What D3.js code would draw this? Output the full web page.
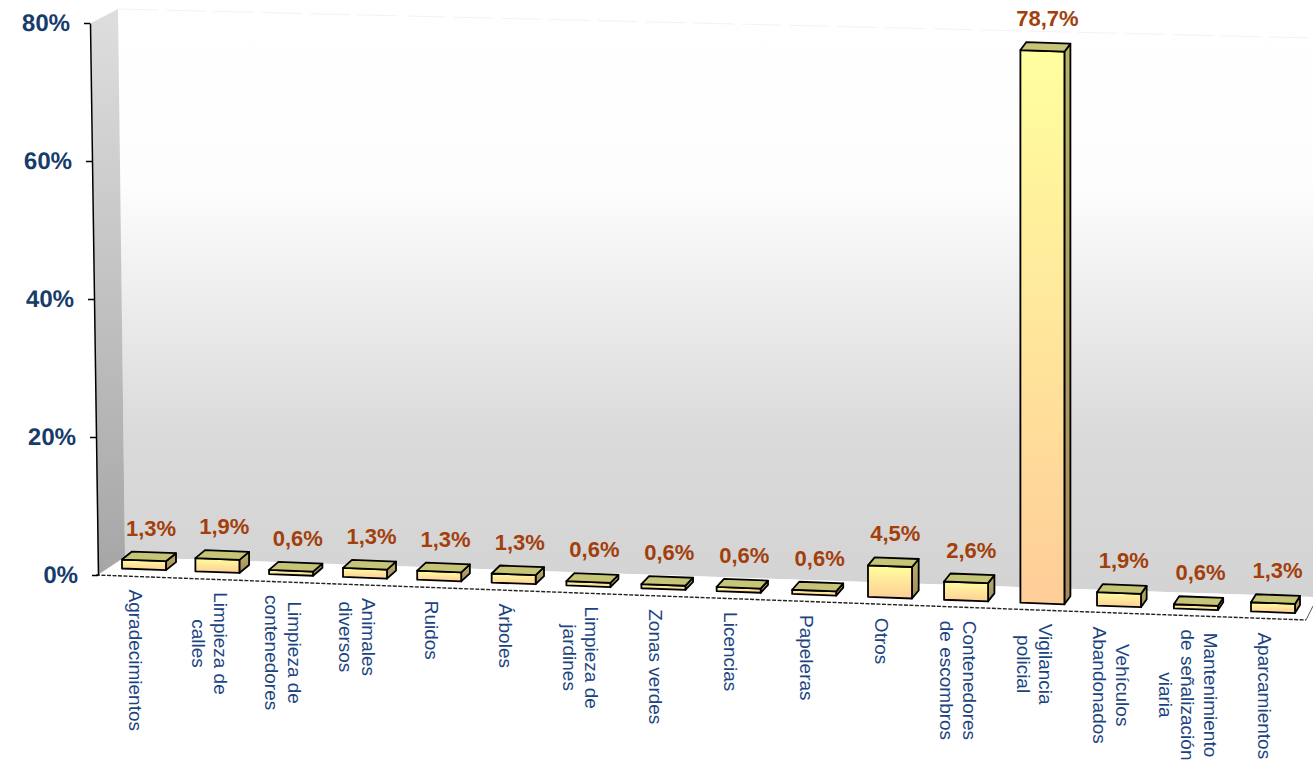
<!DOCTYPE html>
<html><head><meta charset="utf-8">
<script src="https://cdn.jsdelivr.net/npm/d3@7"></script>
<style>body{margin:0;background:#fff;overflow:hidden}text{font-family:"Liberation Sans",Arial,sans-serif}</style>
</head><body>
<svg id="c" width="1313" height="763"></svg>
<script>
// ---------- data ----------
const categoryLines = [
  ["Agradecimientos"], ["Limpieza de", "calles"], ["Limpieza de", "contenedores"],
  ["Animales", "diversos"], ["Ruidos"], ["Árboles"], ["Limpieza de", "jardines"],
  ["Zonas verdes"], ["Licencias"], ["Papeleras"], ["Otros"],
  ["Contenedores", "de escombros"], ["Vigilancia", "policial"],
  ["Vehículos", "Abandonados"], ["Mantenimiento", "de señalización", "viaria"],
  ["Aparcamientos"]
];
const categories = categoryLines.map(l => l.join(" "));
const values = [1.3, 1.9, 0.6, 1.3, 1.3, 1.3, 0.6, 0.6, 0.6, 0.6, 4.5, 2.6, 78.7, 1.9, 0.6, 1.3];
const yTicks = [0, 0.2, 0.4, 0.6, 0.8];

// ---------- formatting ----------
const es = d3.formatLocale({decimal: ",", thousands: ".", grouping: [3], currency: ["", "€"]});
const fmtVal = v => es.format(".1f")(v) + "%";
const fmtTick = es.format(".0%");

// ---------- geometry (perspective helpers) ----------
const svg = d3.select("#c");
const W = 1313;
const tScale = d3.scalePoint().domain(categories).range([0, 1]);
const frontX = t => 122 + 1099 * t + 30 * t * t;          // front-left x of a bar
const baseY = x => 568.5 + (x - 122) * 0.038;              // floor line under bar fronts
const slope = 0.038;
const yScale = d3.scaleLinear().domain([0, 0.8]).range([575, 23]);
const hScale = d3.scaleLinear().domain([0, 80]).range([0, 552]);
const barW = 44;

// ---------- defs ----------
const defs = svg.append("defs");
function lin(id, stops) {
  const g = defs.append("linearGradient").attr("id", id).attr("x1", 0).attr("y1", 0).attr("x2", 0).attr("y2", 1);
  stops.forEach(([o, c]) => g.append("stop").attr("offset", o).attr("stop-color", c));
}
lin("back", [[0, "#ffffff"], [0.3, "#fdfdfd"], [0.72, "#dadada"], [1, "#d3d3d3"]]);
lin("side", [[0, "#dedede"], [1, "#a6a6a6"]]);
lin("front", [[0, "#ffff9e"], [1, "#ffcd98"]]);
lin("bside", [[0, "#b8b26a"], [1, "#a68a5c"]]);

const poly = pts => "M" + pts.map(p => p.join(",")).join("L") + "Z";

// back wall
svg.append("path").attr("d", poly([[118, 9], [W, 38], [W, 597], [125, 557]])).attr("fill", "url(#back)");
svg.append("line").attr("x1", 118).attr("y1", 9).attr("x2", W).attr("y2", 38)
  .attr("stroke", "#f3f3f3").attr("stroke-width", 1).attr("stroke-dasharray", "40,8");
// side wall
svg.append("path").attr("d", poly([[91, 23], [118, 9], [125, 557], [98, 575]])).attr("fill", "url(#side)");
// floor
svg.append("path").attr("d", poly([[98, 575], [125, 557], [W, 597], [W, 605], [1306, 620]])).attr("fill", "#ffffff");
svg.append("line").attr("x1", 96).attr("y1", 575).attr("x2", 1306).attr("y2", 620)
  .attr("stroke", "#222").attr("stroke-width", 1.4).attr("stroke-dasharray", "4,1.5");
svg.append("line").attr("x1", 1306).attr("y1", 620).attr("x2", W).attr("y2", 606)
  .attr("stroke", "#555").attr("stroke-width", 1);

// ---------- value axis (slightly skewed for perspective) ----------
const k = 8 / 552;
const axisG = svg.append("g").attr("transform", `matrix(1,0,${k},1,${90 - k * 23},0)`)
  .call(d3.axisLeft(yScale).tickValues(yTicks).tickFormat(fmtTick).tickSize(6).tickPadding(14).tickSizeOuter(0));
axisG.select(".domain").attr("stroke", "#000").attr("stroke-width", 1.5);
axisG.selectAll(".tick line").attr("stroke", "#000").attr("stroke-width", 1.3);
axisG.selectAll(".tick text").attr("fill", "#173c6b").attr("font-size", 24).attr("font-weight", "bold")
  .attr("font-family", "'Liberation Sans', Arial, sans-serif");

// ---------- bars ----------
const bars = categories.map((c, i) => {
  const t = tScale(c);
  const x0 = frontX(t);
  const y0 = baseY(x0);
  const h = hScale(values[i]) * (1 + 0.022 * t);
  const dx = 10 - 5 * t, dy = -8;
  const BL = [x0, y0], BR = [x0 + barW, y0 + barW * slope];
  const TL = [x0, y0 - h], TR = [x0 + barW, y0 + barW * slope - h];
  const sh = p => [p[0] + dx, p[1] + dy];
  return {c, i, t, x0, y0, h, dx, dy, BL, BR, TL, TR, sh, v: values[i], lines: categoryLines[i]};
});

const bg = svg.append("g").attr("stroke", "#000").attr("stroke-width", 1.8).attr("stroke-linejoin", "round");
bars.forEach(b => {
  bg.append("path").attr("d", poly([b.BR, b.TR, b.sh(b.TR), b.sh(b.BR)])).attr("fill", "url(#bside)");
  bg.append("path").attr("d", poly([b.BL, b.BR, b.TR, b.TL])).attr("fill", "url(#front)");
  bg.append("path").attr("d", poly([b.TL, b.TR, b.sh(b.TR), b.sh(b.TL)])).attr("fill", "#c6c476");
});

// value labels
svg.append("g").selectAll("text").data(bars).join("text")
  .attr("x", b => b.x0 + barW / 2 + b.dx / 2 + 2)
  .attr("y", b => b.y0 - b.h + b.dy - 16)
  .attr("text-anchor", "middle")
  .attr("font-size", 22).attr("font-weight", "bold").attr("fill", "#a33f0c")
  .text(b => fmtVal(b.v));

// category labels (rotated 90°, lines centered on the longest line)
const lh = 22.5;
bars.forEach(b => {
  const cx = b.x0 + barW / 2 - 8;
  const top = baseY(b.x0) + 21;
  const g = svg.append("g").attr("transform", `translate(${cx},${top}) rotate(90)`);
  const n = b.lines.length;
  const texts = b.lines.map((ln, j) => g.append("text")
    .attr("y", (j - (n - 1) / 2) * lh).attr("dy", "0.35em")
    .attr("text-anchor", "middle").attr("font-size", 19).attr("fill", "#1b447f").text(ln));
  const maxLen = d3.max(texts, t => t.node().getComputedTextLength());
  texts.forEach(t => t.attr("x", maxLen / 2));
});
</script>
</body></html>
